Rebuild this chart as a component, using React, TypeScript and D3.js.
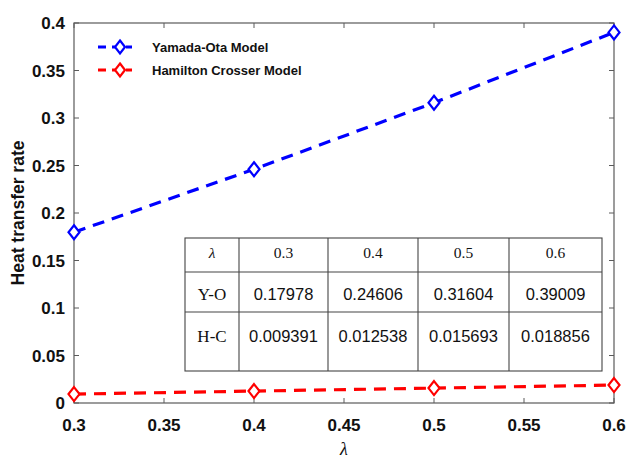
import React from "react";
import * as d3 from "d3";

const lambdas = [0.3, 0.4, 0.5, 0.6];
const yamadaOta = [0.17978, 0.24606, 0.31604, 0.39009];
const hamiltonCrosser = [0.009391, 0.012538, 0.015693, 0.018856];
const xTicks = [0.3, 0.35, 0.4, 0.45, 0.5, 0.55, 0.6];
const yTicks = [0, 0.05, 0.1, 0.15, 0.2, 0.25, 0.3, 0.35, 0.4];
const tableHeader = ["λ", "0.3", "0.4", "0.5", "0.6"];
const tableYO = ["Y-O", "0.17978", "0.24606", "0.31604", "0.39009"];
const tableHC = ["H-C", "0.009391", "0.012538", "0.015693", "0.018856"];
const seriesNames = ["Yamada-Ota Model", "Hamilton Crosser Model"];
const seriesColors = ["#0000ff", "#ff0000"];

const W = 628, H = 461;
const L = 74, R = 614, T = 23, B = 403;

export default function App() {
  const x = d3.scaleLinear().domain([0.3, 0.6]).range([L, R]);
  const y = d3.scaleLinear().domain([0, 0.4]).range([B, T]);
  const line = d3.line<number>().x((_, i) => x(lambdas[i])).y((d) => y(d));
  const series = [yamadaOta, hamiltonCrosser];
  const diamond = (cx: number, cy: number, w = 5.5, h = 7) =>
    `M${cx},${cy - h}L${cx + w},${cy}L${cx},${cy + h}L${cx - w},${cy}Z`;

  const colX = [185, 239, 328, 418, 509, 602];
  const rowY = [238, 272, 312, 371];
  const rows = [tableHeader, tableYO, tableHC];
  const textY = [258, 300, 342];

  const axisColor = "#5a5a5a";
  const sans = "Liberation Sans, Arial, sans-serif";
  const serifF = "Liberation Serif, Times New Roman, serif";
  return (
    <svg width={W} height={H} style={{ display: "block", position: "absolute", left: 0, top: 0 }}>
      <rect x={0} y={0} width={W} height={H} fill="#fff" />
      <rect x={L} y={T} width={R - L} height={B - T} fill="none" stroke={axisColor} strokeWidth={1.2} />
      {xTicks.map((t) => (
        <g key={"xt" + t}>
          <line x1={x(t)} x2={x(t)} y1={B} y2={B - 5} stroke={axisColor} />
          <line x1={x(t)} x2={x(t)} y1={T} y2={T + 5} stroke={axisColor} />
          <text x={x(t)} y={431} textAnchor="middle" fontFamily={sans} fontWeight="bold" fontSize={17} fill="#111">
            {d3.format("")(t)}
          </text>
        </g>
      ))}
      {yTicks.map((t) => (
        <g key={"yt" + t}>
          <line x1={L} x2={L + 5} y1={y(t)} y2={y(t)} stroke={axisColor} />
          <line x1={R} x2={R - 5} y1={y(t)} y2={y(t)} stroke={axisColor} />
          <text x={65} y={y(t) + 6} textAnchor="end" fontFamily={sans} fontWeight="bold" fontSize={17} fill="#111">
            {d3.format("")(t)}
          </text>
        </g>
      ))}
      <text transform={`translate(24,${(T + B) / 2}) rotate(-90)`} textAnchor="middle" fontFamily={sans} fontWeight="bold" fontSize={17.5} fill="#111">
        Heat transfer rate
      </text>
      <text x={(L + R) / 2} y={455} textAnchor="middle" fontFamily={serifF} fontStyle="italic" fontSize={18} fill="#111">
        λ
      </text>

      <g stroke="#444" strokeWidth={1.1} fill="none">
        <rect x={colX[0]} y={rowY[0]} width={colX[5] - colX[0]} height={rowY[3] - rowY[0]} fill="#fff" />
        {colX.slice(1, 5).map((cx) => (
          <line key={"c" + cx} x1={cx} x2={cx} y1={rowY[0]} y2={rowY[3]} />
        ))}
        {rowY.slice(1, 3).map((ry) => (
          <line key={"r" + ry} x1={colX[0]} x2={colX[5]} y1={ry} y2={ry} />
        ))}
      </g>
      {rows.map((row, ri) =>
        row.map((cell, ci) => {
          const serif = ri === 0 || ci === 0;
          const size = ri === 0 ? 15.5 : ci === 0 ? 17 : 16.5;
          return (
            <text
              key={ri + "-" + ci}
              x={(colX[ci] + colX[ci + 1]) / 2}
              y={textY[ri]}
              textAnchor="middle"
              fontFamily={serif ? serifF : sans}
              fontStyle={ri === 0 && ci === 0 ? "italic" : "normal"}
              fontSize={size}
              fill="#111"
            >
              {cell}
            </text>
          );
        })
      )}

      {series.map((s, si) => (
        <g key={"s" + si}>
          <path d={line(s) || ""} fill="none" stroke={seriesColors[si]} strokeWidth={3.2} strokeDasharray="12,8" />
          {s.map((v, i) => (
            <path key={i} d={diamond(x(lambdas[i]), y(v))} fill="#fff" stroke={seriesColors[si]} strokeWidth={2.2} />
          ))}
        </g>
      ))}

      {seriesNames.map((name, i) => {
        const ly = 47 + i * 23;
        return (
          <g key={name}>
            <line x1={98} x2={132} y1={ly} y2={ly} stroke={seriesColors[i]} strokeWidth={3.2} strokeDasharray="8,6" />
            <path d={diamond(120, ly, 5, 6.5)} fill="#fff" stroke={seriesColors[i]} strokeWidth={2.2} />
            <text x={152} y={ly + 5} fontFamily={sans} fontWeight="bold" fontSize={13} fill="#111">
              {name}
            </text>
          </g>
        );
      })}
    </svg>
  );
}
